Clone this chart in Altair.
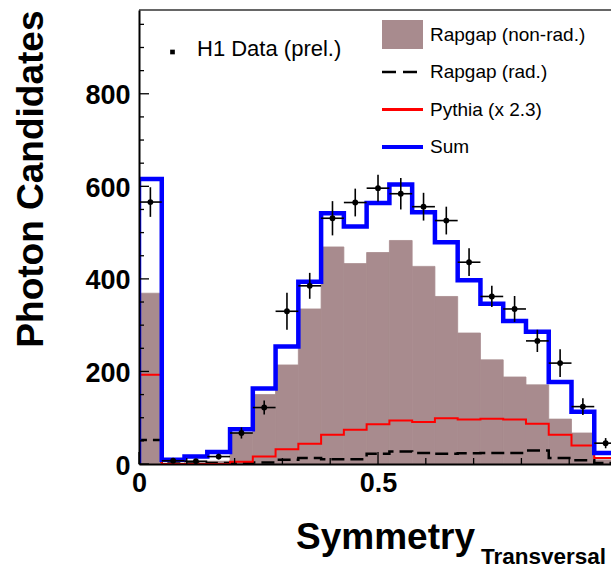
import altair as alt
import pandas as pd

# ---------------- data ----------------
n_bins = 21
edges = [k / 21 for k in range(n_bins + 1)]
rapgap_nonrad = [369, 2, 4, 6, 67, 150, 214, 335, 469, 433, 457, 483, 427, 362, 283, 225, 188, 171, 97, 67, 9]
rapgap_rad = [52, 1, 1, 2, 2, 3, 9, 13, 10, 10, 22, 27, 24, 22, 23, 24, 24, 29, 13, 8, 2]
pythia = [193, 0, 0, 0, 5, 16, 32, 44, 63, 74, 86, 94, 91, 99, 96, 98, 96, 87, 63, 40, 13]
total = [616, 9, 16, 26, 75, 163, 254, 394, 542, 513, 564, 604, 544, 479, 397, 346, 309, 286, 177, 113, 24]
h1_data = [566, 7, 6, 16, 67, 122, 330, 385, 531, 565, 596, 584, 556, 526, 436, 362, 335, 266, 218, 124, 45]
h1_err = [32, 4, 4, 6, 12, 15, 40, 28, 37, 30, 29, 34, 30, 30, 30, 23, 28, 24, 30, 18, 11]

y_major = [0, 200, 400, 600, 800]
y_minor = [50, 100, 150, 250, 300, 350, 450, 500, 550, 650, 700, 750, 850, 900, 950]
x_major = [0.0, 0.5]
x_minor = [0.1, 0.2, 0.3, 0.4, 0.6, 0.7, 0.8, 0.9]

legend_labels = ["Rapgap (non-rad.)", "Rapgap (rad.)", "Pythia (x 2.3)", "Sum"]
data_label = "H1 Data (prel.)"
x_title = "Symmetry"
x_subscript = "Transversal"
y_title = "Photon Candidates"

# ---------------- layout ----------------
W, H = 472, 454
X_MAX = 0.9874
Y_MAX = 981
FONT = "Liberation Sans"
BROWN = "#a88b8e"

xs = alt.Scale(domain=[0, X_MAX], nice=False, zero=False)
ys = alt.Scale(domain=[0, Y_MAX], nice=False)

XAX = alt.Axis(
    title=x_title, values=x_major, format=".1~f", ticks=False, grid=False,
    domainColor="black", domainWidth=2, labelFont=FONT, labelFontWeight="bold",
    labelFontSize=27, labelColor="black", labelPadding=6, labelFlush=False,
    labelOverlap=False, titleFont=FONT, titleFontWeight="bold", titleFontSize=37,
    titleColor="black", titleX=246, titleY=84, titleAlign="center",
    titleBaseline="alphabetic", zindex=1,
)
YAX = alt.Axis(
    title=y_title, values=y_major, ticks=False, grid=False,
    domainColor="black", domainWidth=2, labelFont=FONT, labelFontWeight="bold",
    labelFontSize=27, labelColor="black", labelPadding=9, labelOffset=2,
    labelOverlap=False, labelFlush=False,
    titleFont=FONT, titleFontWeight="bold", titleFontSize=37, titleColor="black",
    titleAngle=270, titleAlign="right", titleBaseline="middle",
    titleX=-108, titleY=0, zindex=1,
)


def X(field):
    return alt.X(field, type="quantitative", scale=xs, axis=XAX)


def Y(field):
    return alt.Y(field, type="quantitative", scale=ys, axis=YAX)


bins_df = pd.DataFrame({
    "x0": edges[:-1], "x1": edges[1:],
    "nonrad": rapgap_nonrad,
    "data": h1_data,
    "lo": [d - e for d, e in zip(h1_data, h1_err)],
    "hi": [d + e for d, e in zip(h1_data, h1_err)],
    "xc": [(a + b) / 2 for a, b in zip(edges[:-1], edges[1:])],
})


def steps(vals):
    rows = [{"x": edges[0], "y": 0}]
    for k, v in enumerate(vals):
        rows.append({"x": edges[k], "y": v})
        rows.append({"x": edges[k + 1], "y": v})
    df = pd.DataFrame(rows)
    df["i"] = range(len(df))
    return df


fill = alt.Chart(bins_df).mark_rect(
    color=BROWN, stroke=BROWN, strokeWidth=0.8, clip=True
).encode(
    x=X("x0"), x2="x1", y=Y("nonrad"), y2=alt.datum(0)
)

rad_line = alt.Chart(steps(rapgap_rad)).mark_line(
    color="black", strokeWidth=2.5, strokeDash=[13, 6], clip=True
).encode(x=X("x"), y=Y("y"), order="i:Q")

py_line = alt.Chart(steps(pythia)).mark_line(
    color="#ff0000", strokeWidth=2, clip=True
).encode(x=X("x"), y=Y("y"), order="i:Q")

sum_line = alt.Chart(steps(total)).mark_line(
    color="#0000ff", strokeWidth=4.5, clip=True
).encode(x=X("x"), y=Y("y"), order="i:Q")

err_v = alt.Chart(bins_df).mark_rule(color="black", strokeWidth=1.6, clip=True).encode(
    x=X("xc"), y=Y("lo"), y2="hi"
)
err_h = alt.Chart(bins_df).mark_rule(color="black", strokeWidth=1.6, clip=True).encode(
    x=X("x0"), x2="x1", y=Y("data")
)
pts = alt.Chart(bins_df).mark_circle(color="black", size=34, opacity=1, clip=True).encode(
    x=X("xc"), y=Y("data")
)

# inner ticks (ROOT style)
ymaj = alt.Chart(pd.DataFrame({"v": y_major})).mark_rule(color="black", strokeWidth=1.3).encode(
    y=Y("v"), x=alt.value(0), x2=alt.value(10)
)
ymin = alt.Chart(pd.DataFrame({"v": y_minor})).mark_rule(color="black", strokeWidth=1.3).encode(
    y=Y("v"), x=alt.value(0), x2=alt.value(5)
)
xmaj = alt.Chart(pd.DataFrame({"v": x_major})).mark_rule(color="black", strokeWidth=1.3).encode(
    x=X("v"), y=alt.value(H), y2=alt.value(H - 12)
)
xmin = alt.Chart(pd.DataFrame({"v": x_minor})).mark_rule(color="black", strokeWidth=1.3).encode(
    x=X("v"), y=alt.value(H), y2=alt.value(H - 6)
)

one = pd.DataFrame({"k": [0]})
frame_top = alt.Chart(one).mark_rule(color="#333333", strokeWidth=1.5).encode(
    x=alt.value(0), x2=alt.value(W), y=alt.value(0)
)

# ---------------- legend ----------------
leg_x0, leg_x1, txt_x = 243, 284, 291
rows_y = [25, 62, 99.5, 137]

leg_box = alt.Chart(one).mark_rect(color=BROWN).encode(
    x=alt.value(leg_x0), x2=alt.value(leg_x1), y=alt.value(10), y2=alt.value(39)
)
leg_dash = alt.Chart(one).mark_rule(color="black", strokeWidth=2.5, strokeDash=[14, 7]).encode(
    x=alt.value(leg_x0), x2=alt.value(leg_x0 + 35), y=alt.value(rows_y[1])
)
leg_red = alt.Chart(one).mark_rule(color="#ff0000", strokeWidth=3).encode(
    x=alt.value(leg_x0), x2=alt.value(leg_x1), y=alt.value(rows_y[2])
)
leg_blue = alt.Chart(one).mark_rule(color="#0000ff", strokeWidth=4).encode(
    x=alt.value(leg_x0), x2=alt.value(leg_x1), y=alt.value(rows_y[3])
)
leg_texts = [
    alt.Chart(pd.DataFrame({"t": [lab]})).mark_text(
        font=FONT, fontSize=19, color="black", align="left", baseline="middle"
    ).encode(text="t:N", x=alt.value(txt_x), y=alt.value(yy))
    for lab, yy in zip(legend_labels, rows_y)
]
data_marker = alt.Chart(one).mark_square(color="black", size=22, opacity=1).encode(
    x=alt.value(33.5), y=alt.value(42)
)
data_text = alt.Chart(pd.DataFrame({"t": [data_label]})).mark_text(
    font=FONT, fontSize=22, color="black", align="left", baseline="middle"
).encode(text="t:N", x=alt.value(58), y=alt.value(39))

sub_text = alt.Chart(pd.DataFrame({"t": [x_subscript]})).mark_text(
    font=FONT, fontSize=22.5, fontWeight="bold", color="black", align="left", baseline="alphabetic"
).encode(text="t:N", x=alt.value(342), y=alt.value(554))

chart = alt.layer(
    fill, rad_line, py_line, sum_line, err_v, err_h, pts,
    ymaj, ymin, xmaj, xmin, frame_top,
    leg_box, leg_dash, leg_red, leg_blue, *leg_texts, data_marker, data_text, sub_text,
).properties(
    width=W, height=H,
    autosize=alt.AutoSizeParams(type="none"),
    padding={"left": 139, "top": 10, "right": 0, "bottom": 104},
    background="white",
).configure_view(strokeWidth=0)

chart.save("out.html", embed_options={"renderer": "svg", "actions": False})
